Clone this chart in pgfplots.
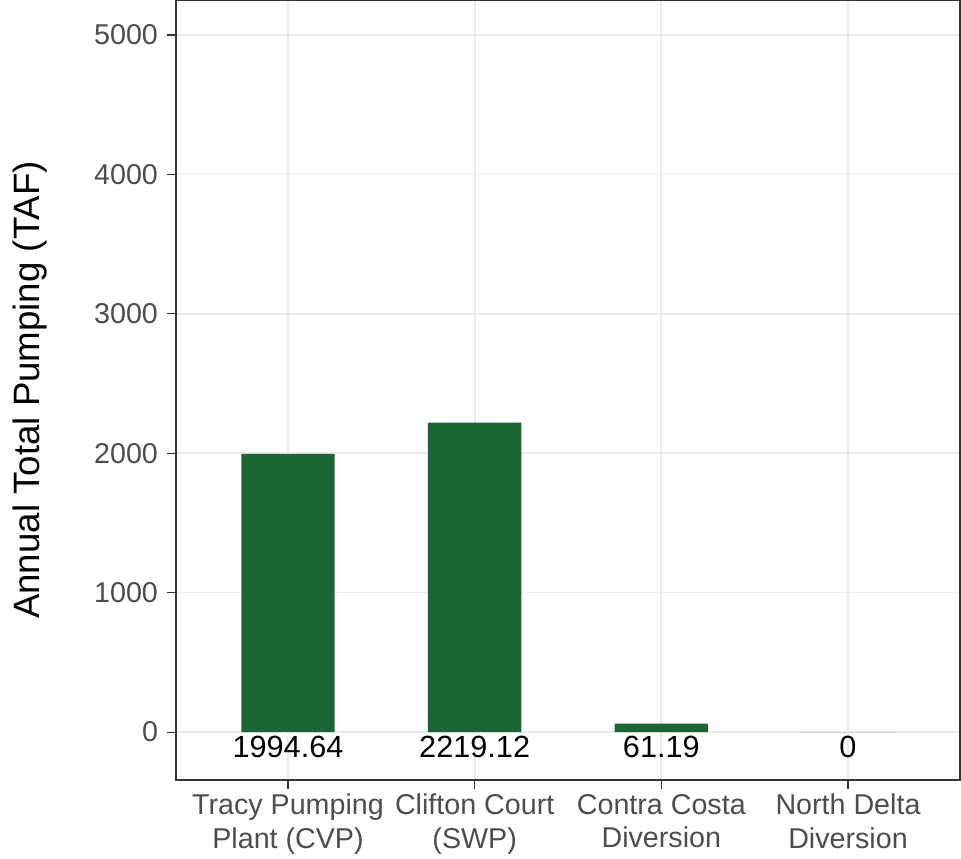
\documentclass[border=0pt]{standalone}
\usepackage{pgfplots}
\pgfplotsset{compat=1.18}
\usepackage{fontspec}
\setmainfont{Liberation Sans}
\definecolor{barcol}{RGB}{27,101,53}
\definecolor{gridcol}{RGB}{235,235,235}
\definecolor{ticklab}{RGB}{77,77,77}
\definecolor{frame}{RGB}{51,51,51}
\begin{document}
\begin{tikzpicture}
\useasboundingbox (-132pt,-59.25pt) rectangle (588.75pt,585pt);
\begin{axis}[
    at={(0,0)}, anchor=south west,
    scale only axis,
    width=588pt, height=585pt,
    xmin=0.4, xmax=4.6,
    ymin=-344, ymax=5251,
    axis line style={frame, line width=0.8pt},
    xtick={1,2,3,4},
    xticklabels={{Tracy Pumping\\Plant (CVP)},{Clifton Court\\(SWP)},{Contra Costa\\Diversion},{North Delta\\Diversion}},
    ytick={0,1000,2000,3000,4000,5000},
    /pgf/number format/assume math mode=true,
    /pgf/number format/1000 sep={},
    yticklabel style={font=\fontsize{21.5}{25}\selectfont, text=ticklab, xshift=-3pt},
    xticklabel style={font=\fontsize{21.5}{25}\selectfont, text=ticklab, align=center},
    tick align=outside,
    major tick length=7pt,
    tick style={frame, line width=0.8pt},
    xtick pos=bottom, ytick pos=left,
    grid=major,
    grid style={gridcol, line width=1.3pt},
    ylabel={Annual Total Pumping (TAF)},
    ylabel style={font=\fontsize{27.5}{32}\selectfont, at={(axis description cs:-0.186,0.5)}, anchor=center},
    ybar, bar width=0.5, bar shift=0pt,
]
\addplot[fill=barcol, draw=none, bar shift=0pt] coordinates {(1,1994.64) (2,2219.12) (3,61.19)};
\addplot[fill=none, draw=barcol!25, line width=0.6pt, bar shift=0pt] coordinates {(4,0)};
\addplot[draw=none, fill=none, bar shift=0pt, nodes near coords, point meta=explicit symbolic,
    every node near coord/.style={font=\fontsize{23}{27}\selectfont, text=black, anchor=center}]
    coordinates {(1,-108)[1994.64] (2,-108)[2219.12] (3,-108)[61.19] (4,-108)[0]};
\end{axis}
\end{tikzpicture}
\end{document}
